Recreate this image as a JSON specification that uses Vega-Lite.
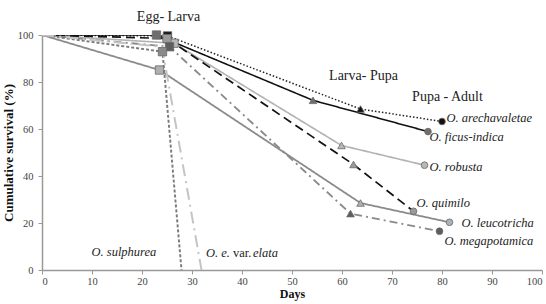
{
  "$schema": "https://vega.github.io/schema/vega-lite/v6.json",
  "width": 500,
  "height": 235,
  "autosize": {"type": "none"},
  "padding": {"left": 42, "top": 35, "right": 4, "bottom": 34},
  "background": "white",
  "config": {
    "view": {"stroke": null},
    "font": "Liberation Serif",
    "axis": {
      "labelFont": "Liberation Serif",
      "titleFont": "Liberation Serif",
      "labelColor": "#444",
      "titleColor": "#111",
      "domainColor": "#999",
      "tickColor": "#999",
      "domainWidth": 1.5,
      "tickSize": 4,
      "grid": false,
      "labelFontSize": 10.5,
      "titleFontWeight": "bold"
    }
  },
  "datasets": {
    "curves": [
      {"species": "arechavaletae", "stage": "Start", "day": 0, "survival": 100},
      {"species": "arechavaletae", "stage": "Egg-Larva", "day": 25.1, "survival": 99.6},
      {"species": "arechavaletae", "stage": "Larva-Pupa", "day": 63.7, "survival": 68.5},
      {"species": "arechavaletae", "stage": "Pupa-Adult", "day": 80, "survival": 63.2},
      {"species": "ficus-indica", "stage": "Start", "day": 0, "survival": 100},
      {"species": "ficus-indica", "stage": "Egg-Larva", "day": 22.9, "survival": 100},
      {"species": "ficus-indica", "stage": "Larva-Pupa", "day": 54.2, "survival": 72.2},
      {"species": "ficus-indica", "stage": "Pupa-Adult", "day": 77.2, "survival": 58.9},
      {"species": "robusta", "stage": "Start", "day": 0, "survival": 100},
      {"species": "robusta", "stage": "Egg-Larva", "day": 26.4, "survival": 96.5},
      {"species": "robusta", "stage": "Larva-Pupa", "day": 59.9, "survival": 53},
      {"species": "robusta", "stage": "Pupa-Adult", "day": 76.5, "survival": 44.6},
      {"species": "quimilo", "stage": "Start", "day": 0, "survival": 100},
      {"species": "quimilo", "stage": "Egg-Larva", "day": 25, "survival": 98.5},
      {"species": "quimilo", "stage": "Larva-Pupa", "day": 62.3, "survival": 44.9},
      {"species": "quimilo", "stage": "Pupa-Adult", "day": 74.3, "survival": 25},
      {"species": "leucotricha", "stage": "Start", "day": 0, "survival": 100},
      {"species": "leucotricha", "stage": "Egg-Larva", "day": 23.5, "survival": 85.1},
      {"species": "leucotricha", "stage": "Larva-Pupa", "day": 63.7, "survival": 28.5},
      {"species": "leucotricha", "stage": "Pupa-Adult", "day": 81.5, "survival": 20.3},
      {"species": "megapotamica", "stage": "Start", "day": 0, "survival": 100},
      {"species": "megapotamica", "stage": "Egg-Larva", "day": 25.5, "survival": 95},
      {"species": "megapotamica", "stage": "Larva-Pupa", "day": 61.7, "survival": 24},
      {"species": "megapotamica", "stage": "Pupa-Adult", "day": 79.5, "survival": 16.5},
      {"species": "sulphurea", "stage": "Start", "day": 0, "survival": 100},
      {"species": "sulphurea", "stage": "Egg-Larva", "day": 24.1, "survival": 92.9},
      {"species": "sulphurea", "stage": "End", "day": 27.9, "survival": 0},
      {"species": "elata", "stage": "Start", "day": 0, "survival": 100},
      {"species": "elata", "stage": "Hidden", "day": 24, "survival": 95},
      {"species": "elata", "stage": "End", "day": 31.9, "survival": 0}
    ],
    "labels": [
      {"kind": "species", "label": "O. arechavaletae", "day": 80.9, "survival": 64.8},
      {"kind": "species", "label": "O. ficus-indica", "day": 77.5, "survival": 56.5},
      {"kind": "species", "label": "O. robusta", "day": 77.5, "survival": 43.9},
      {"kind": "species", "label": "O.  quimilo", "day": 74.9, "survival": 28.3},
      {"kind": "species", "label": "O. leucotricha", "day": 83.9, "survival": 20},
      {"kind": "species", "label": "O. megapotamica", "day": 80.5, "survival": 12.2},
      {"kind": "species", "label": "O. sulphurea", "day": 9.9, "survival": 7.6},
      {"kind": "species", "label": "O. e.", "day": 32.8, "survival": 7.1},
      {"kind": "connector", "label": "var.", "day": 38.2, "survival": 7.1},
      {"kind": "species", "label": "elata", "day": 42.2, "survival": 7.1},
      {"kind": "stage", "label": "Egg-  Larva", "day": 25.3, "survival": 107.7},
      {"kind": "stage", "label": "Larva-  Pupa", "day": 64.3, "survival": 82.4},
      {"kind": "stage", "label": "Pupa  - Adult", "day": 81.1, "survival": 73.8}
    ]
  },
  "layer": [
    {
      "data": {"name": "curves"},
      "mark": {"type": "line", "clip": true},
      "encoding": {
        "x": {"field": "day", "type": "quantitative", "scale": {"domain": [0, 100], "nice": false},
              "axis": {"values": [0,10,20,30,40,50,60,70,80,90,100], "title": "Days", "titleFontSize": 12, "titlePadding": 2, "labelPadding": 2}},
        "y": {"field": "survival", "type": "quantitative", "scale": {"domain": [0, 100], "nice": false},
              "axis": {"values": [0,20,40,60,80,100], "title": "Cumulative survival (%)", "titleFontSize": 13, "titlePadding": 2, "labelPadding": 5}},
        "order": {"field": "day", "type": "quantitative"},
        "detail": {"field": "species"},
        "stroke": {"field": "species", "type": "nominal", "legend": null,
          "scale": {"domain": ["arechavaletae","ficus-indica","robusta","quimilo","leucotricha","megapotamica","sulphurea","elata"],
                    "range": ["#222222","#111111","#b3b3b3","#111111","#8a8a8a","#8a8a8a","#7a7a7a","#c4c4c4"]}},
        "strokeDash": {"field": "species", "type": "nominal", "legend": null,
          "scale": {"domain": ["arechavaletae","ficus-indica","robusta","quimilo","leucotricha","megapotamica","sulphurea","elata"],
                    "range": [[1.5,2],[1,0],[1,0],[9,5],[1,0],[8,4,2,4],[3,2],[12,5,2,5]]}},
        "strokeWidth": {"field": "species", "type": "nominal", "legend": null,
          "scale": {"domain": ["arechavaletae","ficus-indica","robusta","quimilo","leucotricha","megapotamica","sulphurea","elata"],
                    "range": [1.5, 2, 2, 2.5, 1.8, 1.8, 1.5, 2.5]}}
      }
    },
    {
      "data": {"name": "curves"},
      "transform": [{"filter": "datum.stage != 'Start' && datum.stage != 'End' && datum.stage != 'Hidden'"}],
      "mark": {"type": "point", "filled": true, "stroke": "#6a6a6a", "strokeWidth": 0.8, "opacity": 1},
      "encoding": {
        "x": {"field": "day", "type": "quantitative"},
        "y": {"field": "survival", "type": "quantitative"},
        "shape": {"field": "stage", "type": "nominal", "legend": null,
          "scale": {"domain": ["Egg-Larva","Larva-Pupa","Pupa-Adult"], "range": ["square","triangle-up","circle"]}},
        "size": {"field": "stage", "type": "nominal", "legend": null,
          "scale": {"domain": ["Egg-Larva","Larva-Pupa","Pupa-Adult"], "range": [70, 45, 60]}},
        "fill": {"field": "species", "type": "nominal", "legend": null,
          "scale": {"domain": ["arechavaletae","ficus-indica","robusta","quimilo","leucotricha","megapotamica","sulphurea","elata"],
                    "range": ["#111111","#6e6e6e","#b8b8b8","#9a9a9a","#b0b0b0","#5e5e5e","#8a8a8a","#c4c4c4"]}}
      }
    },
    {
      "data": {"name": "labels"},
      "transform": [{"filter": "datum.kind == 'species'"}],
      "mark": {"type": "text", "align": "left", "baseline": "middle", "font": "Liberation Serif", "fontStyle": "italic", "fontSize": 12.5, "color": "#222"},
      "encoding": {
        "x": {"field": "day", "type": "quantitative"},
        "y": {"field": "survival", "type": "quantitative"},
        "text": {"field": "label"}
      }
    },
    {
      "data": {"name": "labels"},
      "transform": [{"filter": "datum.kind == 'connector'"}],
      "mark": {"type": "text", "align": "left", "baseline": "middle", "font": "Liberation Serif", "fontSize": 12.5, "color": "#222"},
      "encoding": {
        "x": {"field": "day", "type": "quantitative"},
        "y": {"field": "survival", "type": "quantitative"},
        "text": {"field": "label"}
      }
    },
    {
      "data": {"name": "labels"},
      "transform": [{"filter": "datum.kind == 'stage'"}],
      "mark": {"type": "text", "align": "center", "baseline": "middle", "font": "Liberation Serif", "fontSize": 14, "color": "#222"},
      "encoding": {
        "x": {"field": "day", "type": "quantitative"},
        "y": {"field": "survival", "type": "quantitative"},
        "text": {"field": "label"}
      }
    }
  ]
}
